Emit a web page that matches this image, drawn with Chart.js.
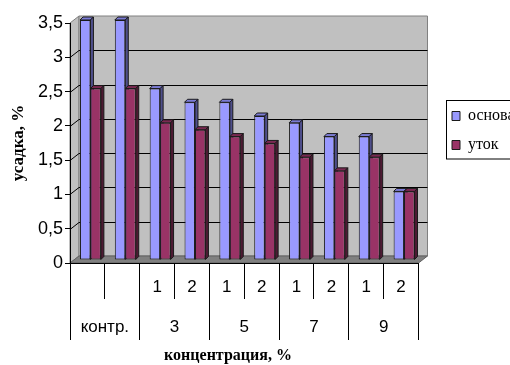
<!DOCTYPE html>
<html>
<head>
<meta charset="utf-8">
<script src="https://cdn.jsdelivr.net/npm/chart.js@4"></script>
<style>
  body { margin: 0; background: #fff; }
  #wrap { width: 510px; height: 365px; }
</style>
</head>
<body>
<div id="wrap"><canvas id="myChart"></canvas></div>
<script>
// данные с диаграммы
const subLabels = ['', '', '1', '2', '1', '2', '1', '2', '1', '2'];
const groupLabels = ['контр.', '3', '5', '7', '9'];
const osnova = [3.5, 3.5, 2.5, 2.3, 2.3, 2.1, 2.0, 1.8, 1.8, 1.0];
const utok = [2.5, 2.5, 2.0, 1.9, 1.8, 1.7, 1.5, 1.3, 1.5, 1.0];
const yTickLabels = ['0', '0,5', '1', '1,5', '2', '2,5', '3', '3,5'];

const DX = 9, DY = 7;   // глубина "стенки"
const BD = 3;           // глубина столбика
const shade = {
    '#9999ff': ['#7b7bd4', '#4f4f8c'],
    '#993366': ['#7a2952', '#4d1a33']
};

function poly(ctx, pts, fill, stroke) {
    ctx.beginPath();
    ctx.moveTo(pts[0][0], pts[0][1]);
    for (let i = 1; i < pts.length; i++) ctx.lineTo(pts[i][0], pts[i][1]);
    ctx.closePath();
    if (fill) { ctx.fillStyle = fill; ctx.fill(); }
    if (stroke) { ctx.strokeStyle = stroke; ctx.lineWidth = 1; ctx.stroke(); }
}

// стенки, пол и сетка в стиле объёмной диаграммы Excel
const excel3d = {
    id: 'excel3d',
    afterLayout(chart) {
        // сдвигаем легенду на место рамки
        const lg = chart.legend;
        lg.top = 95; lg.bottom = 260; lg.height = 165;
        lg.left = 439; lg.right = 560; lg.width = 121;
    },
    beforeDraw(chart) {
        const { ctx, chartArea: a, scales: { y } } = chart;
        ctx.save();
        // левая стенка
        poly(ctx, [[a.left, a.top], [a.left + DX, a.top - DY], [a.left + DX, a.bottom - DY], [a.left, a.bottom]], '#c0c0c0', '#808080');
        // задняя стенка
        poly(ctx, [[a.left + DX, a.top - DY], [a.right + DX, a.top - DY], [a.right + DX, a.bottom - DY], [a.left + DX, a.bottom - DY]], '#c0c0c0', '#808080');
        // линии сетки
        ctx.strokeStyle = '#000';
        ctx.lineWidth = 1;
        y.ticks.forEach(t => {
            if (t.value <= 0 || t.value >= y.max) return;
            const py = Math.round(y.getPixelForValue(t.value)) + 0.5;
            ctx.beginPath();
            ctx.moveTo(a.left, py);
            ctx.lineTo(a.left + DX, py - DY);
            ctx.lineTo(a.right + DX, py - DY);
            ctx.stroke();
        });
        // пол
        poly(ctx, [[a.left, a.bottom], [a.left + DX, a.bottom - DY], [a.right + DX, a.bottom - DY], [a.right, a.bottom]], '#808080', '#606060');
        ctx.restore();
    },
    beforeDatasetsDraw(chart) {
        const ctx = chart.ctx;
        ctx.save();
        ctx.translate(3, -3);
        chart.data.datasets.forEach((ds, i) => {
            const [topC, sideC] = shade[ds.backgroundColor];
            chart.getDatasetMeta(i).data.forEach(bar => {
                const { x, y, base, width } = bar.getProps(['x', 'y', 'base', 'width'], true);
                const l = x - width / 2, r = x + width / 2;
                poly(ctx, [[l, y], [l + BD, y - BD], [r + BD, y - BD], [r, y]], topC, '#1a1a1a');
                poly(ctx, [[r, y], [r + BD, y - BD], [r + BD, base - BD], [r, base]], sideC, '#1a1a1a');
            });
        });
    },
    afterDatasetsDraw(chart) {
        chart.ctx.restore();
    },
    afterDraw(chart) {
        const ctx = chart.ctx;
        ctx.save();
        ctx.strokeStyle = '#000';
        ctx.lineWidth = 1;
        ctx.strokeRect(446.5, 100.5, 100, 58.5);
        // подпись оси X
        ctx.fillStyle = '#000';
        ctx.font = 'bold 16px "Liberation Serif"';
        ctx.textAlign = 'center';
        ctx.textBaseline = 'middle';
        ctx.fillText('концентрация, %', 228, 356);
        ctx.restore();
    }
};

Chart.defaults.font.family = '"Liberation Sans", Arial, sans-serif';
Chart.defaults.color = '#000';

const ctx = document.getElementById('myChart').getContext('2d');
const myChart = new Chart(ctx, {
    type: 'bar',
    data: {
        labels: subLabels,
        datasets: [{
            label: 'основа',
            data: osnova,
            backgroundColor: '#9999ff',
            borderColor: '#1a1a1a',
            borderWidth: 1,
            borderSkipped: false,
            categoryPercentage: 0.6,
            barPercentage: 1.0
        }, {
            label: 'уток',
            data: utok,
            backgroundColor: '#993366',
            borderColor: '#1a1a1a',
            borderWidth: 1,
            borderSkipped: false,
            categoryPercentage: 0.6,
            barPercentage: 1.0
        }]
    },
    options: {
        responsive: true,
        maintainAspectRatio: false,
        animation: false,
        layout: { padding: { top: 23, left: 0, right: 6, bottom: 0 } },
        plugins: {
            tooltip: { enabled: false },
            legend: {
                position: 'right',
                fullSize: false,
                align: 'start',
                labels: {
                    boxWidth: 8,
                    boxHeight: 9,
                    padding: 13,
                    color: '#000',
                    font: { family: '"Liberation Serif", serif', size: 16 }
                }
            }
        },
        scales: {
            x: {
                offset: true,
                grid: { offset: true, drawOnChartArea: false, tickLength: 36, color: '#000' },
                border: { color: '#000' },
                ticks: { padding: -22, autoSkip: false, maxRotation: 0, font: { size: 17 } },
                afterFit(scale) { scale.height = 36; }
            },
            x2: {
                type: 'category',
                position: 'bottom',
                labels: groupLabels,
                offset: true,
                grid: { offset: true, drawOnChartArea: false, tickLength: 41, color: '#000' },
                border: { display: false },
                ticks: { padding: -23, autoSkip: false, maxRotation: 0, font: { size: 17 } },
                afterFit(scale) { scale.height = 66; }
            },
            y: {
                min: 0,
                max: 3.5,
                ticks: {
                    stepSize: 0.5,
                    padding: 2,
                    font: { size: 18 },
                    callback: (v, i) => yTickLabels[i]
                },
                grid: { drawOnChartArea: false, tickLength: 5, color: '#000' },
                border: { color: '#000' },
                title: {
                    display: true,
                    text: 'усадка, %',
                    font: { family: '"Liberation Serif", serif', size: 17, weight: 'bold' },
                    padding: { top: 8, bottom: 0 }
                },
                afterFit(scale) { scale.width = 70; }
            }
        }
    },
    plugins: [excel3d]
});
</script>
</body>
</html>
